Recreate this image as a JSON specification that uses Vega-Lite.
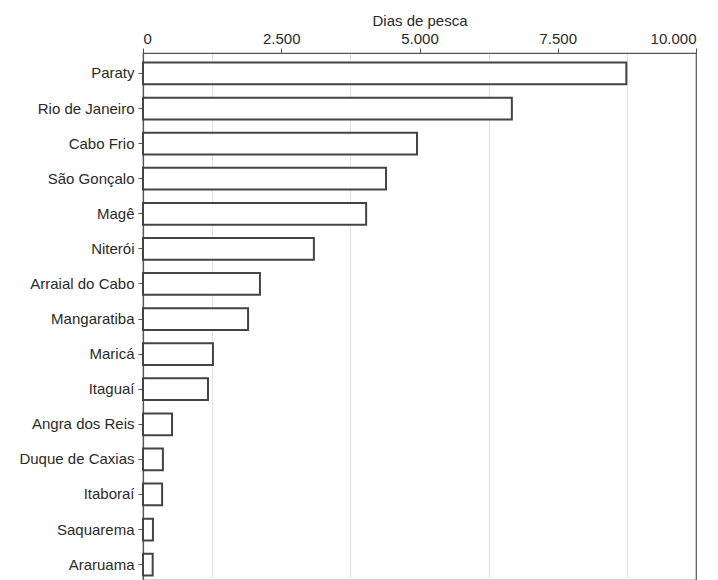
{
  "$schema": "https://vega.github.io/schema/vega-lite/v6.json",
  "autosize": {"type": "none"},
  "width": 553,
  "height": 527,
  "padding": {"left": 143, "top": 53, "right": 22, "bottom": 0},
  "background": "white",
  "config": {
    "font": "Liberation Sans",
    "view": {"stroke": "#555555", "strokeWidth": 1.2}
  },
  "data": {
    "values": [
      {"municipio": "Paraty", "dias": 8740},
      {"municipio": "Rio de Janeiro", "dias": 6670},
      {"municipio": "Cabo Frio", "dias": 4955},
      {"municipio": "São Gonçalo", "dias": 4395},
      {"municipio": "Magê", "dias": 4035},
      {"municipio": "Niterói", "dias": 3090},
      {"municipio": "Arraial do Cabo", "dias": 2115},
      {"municipio": "Mangaratiba", "dias": 1900},
      {"municipio": "Maricá", "dias": 1265},
      {"municipio": "Itaguaí", "dias": 1175},
      {"municipio": "Angra dos Reis", "dias": 525},
      {"municipio": "Duque de Caxias", "dias": 360},
      {"municipio": "Itaboraí", "dias": 345},
      {"municipio": "Saquarema", "dias": 180},
      {"municipio": "Araruama", "dias": 175}
    ]
  },
  "mark": {"type": "bar", "fill": "white", "stroke": "#444444", "strokeWidth": 2},
  "encoding": {
    "y": {
      "field": "municipio",
      "type": "nominal",
      "sort": "-x",
      "scale": {"paddingInner": 0.38, "paddingOuter": 0.2, "align": 0.68},
      "axis": {
        "title": null,
        "labelFontSize": 15,
        "labelColor": "#2a2a2a",
        "tickSize": 5,
        "tickColor": "#555555",
        "domainColor": "#555555",
        "domainWidth": 1.2,
        "labelPadding": 4
      }
    },
    "x": {
      "field": "dias",
      "type": "quantitative",
      "scale": {"domain": [0, 10000], "nice": false},
      "axis": {
        "orient": "top",
        "title": "Dias de pesca",
        "titleFontSize": 15,
        "titleFontWeight": "normal",
        "titleColor": "#2a2a2a",
        "titlePadding": 3,
        "values": [0, 1250, 2500, 3750, 5000, 6250, 7500, 8750, 10000],
        "labelExpr": "datum.value % 2500 === 0 ? replace(format(datum.value, ','), ',', '.') : ''",
        "labelOverlap": false,
        "labelFontSize": 15,
        "labelColor": "#2a2a2a",
        "labelPadding": 2,
        "tickSize": 5,
        "tickColor": "#555555",
        "tickOpacity": {"condition": {"test": "datum.value % 2500 === 0", "value": 1}, "value": 0},
        "domainColor": "#555555",
        "domainWidth": 1.2,
        "grid": true,
        "gridColor": "#e3e3e3",
        "gridOpacity": {"condition": {"test": "datum.value % 2500 === 0", "value": 0}, "value": 1}
      }
    }
  }
}
